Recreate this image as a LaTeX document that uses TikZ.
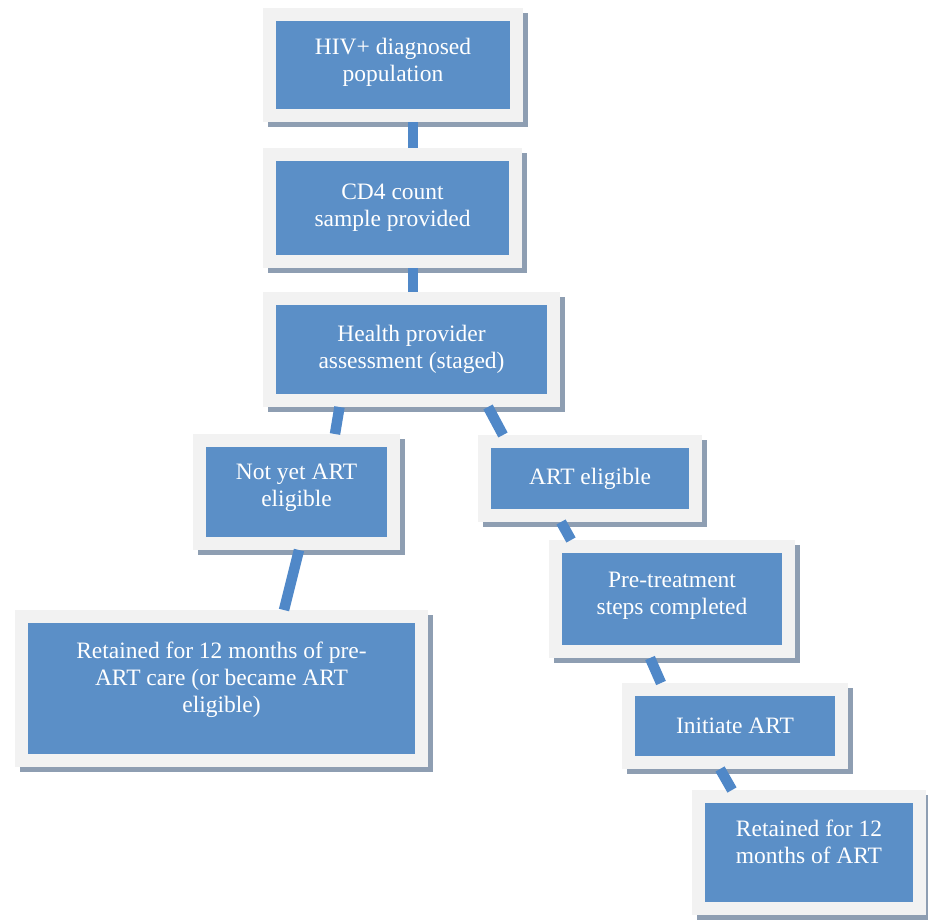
\documentclass[tikz,border=0pt]{standalone}
\usepackage{fontspec}
\setmainfont{Liberation Serif}
\usetikzlibrary{shadows}
\definecolor{stageblue}{HTML}{5B8FC7}
\definecolor{framegrey}{HTML}{F2F2F2}
\definecolor{shadowgrey}{HTML}{8E9EB2}
\definecolor{linkblue}{HTML}{5088C8}
\newcommand{\framewidth}{13pt}
\newcommand{\linkwidth}{10.5pt}
\tikzset{
    stagebox/.style={draw=framegrey, fill=stageblue, line width=\framewidth,
        inner sep=0pt, outer sep=6.5pt, align=center, text=white,
        font=\fontsize{23.5}{27}\selectfont,
        drop shadow={shadow xshift=5pt, shadow yshift=-5pt, opacity=1,
            fill=shadowgrey, draw=shadowgrey, line width=\framewidth}},
    stagelink/.style={draw=linkblue, line width=\linkwidth}
}

\begin{document}
\begin{tikzpicture}[x=1pt, y=-1pt]
        \useasboundingbox (0,0) rectangle (928,920);
        \node[stagebox, minimum width=247pt, minimum height=101pt, text depth=10pt] (hiv) at (393,65) {HIV+ diagnosed\\population};
        \node[stagebox, minimum width=246pt, minimum height=107pt] (cd4) at (392.5,208) {CD4 count\\sample provided};
        \node[stagebox, minimum width=284pt, minimum height=102pt] (assess) at (411.5,349.5) {Health provider\\assessment (staged)};
        \node[stagebox, minimum width=194pt, minimum height=103pt, text depth=14pt] (notyet) at (296.5,492) {Not yet ART\\eligible};
        \node[stagebox, minimum width=211pt, minimum height=74pt] (eligible) at (590,478.5) {ART eligible};
        \node[stagebox, minimum width=233pt, minimum height=105pt, text depth=11pt] (pretreat) at (672,599) {Pre-treatment\\steps completed};
        \node[stagebox, minimum width=400pt, minimum height=144pt, text depth=22pt] (retainpre) at (221.5,688.5) {Retained for 12 months of pre-\\ART care (or became ART\\eligible)};
        \node[stagebox, minimum width=213pt, minimum height=73pt] (initiate) at (735,726) {Initiate ART};
        \node[stagebox, minimum width=221pt, minimum height=112pt, text depth=21pt] (retainart) at (809,852.5) {Retained for 12\\months of ART};
        \draw[stagelink] ([xshift=20pt]hiv.south) -- ([xshift=20.5pt]cd4.north);
        \draw[stagelink] ([xshift=20.5pt]cd4.south) -- ([xshift=1.5pt]assess.north);
        \draw[stagelink] ([xshift=-72pt]assess.south) -- ([xshift=38.5pt]notyet.north);
        \draw[stagelink] ([xshift=76.5pt]assess.south) -- ([xshift=-87pt]eligible.north);
        \draw[stagelink] ([xshift=2.5pt]notyet.south) -- ([xshift=62.5pt]retainpre.north);
        \draw[stagelink] ([xshift=-29pt]eligible.south) -- ([xshift=-101pt]pretreat.north);
        \draw[stagelink] ([xshift=-22pt]pretreat.south) -- ([xshift=-74pt]initiate.north);
        \draw[stagelink] ([xshift=-15pt]initiate.south) -- ([xshift=-77pt]retainart.north);
    \end{tikzpicture}
\end{document}
